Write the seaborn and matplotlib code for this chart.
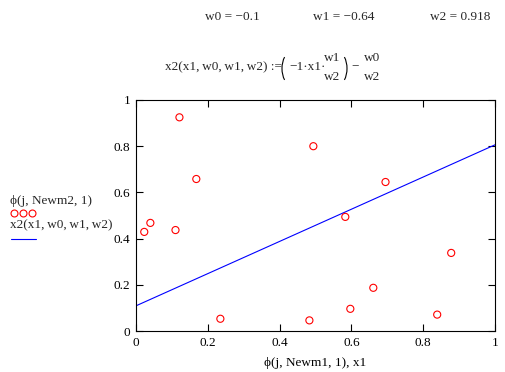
import matplotlib
matplotlib.use("Agg")
import matplotlib.pyplot as plt
from matplotlib.lines import Line2D
from matplotlib.patches import Arc
import seaborn as sns
import pandas as pd

# data
pts_x = [0.023, 0.040, 0.110, 0.121, 0.168, 0.235, 0.483, 0.494, 0.583, 0.597, 0.661, 0.695, 0.839, 0.878]
pts_y = [0.429, 0.468, 0.437, 0.925, 0.658, 0.053, 0.046, 0.800, 0.494, 0.096, 0.187, 0.645, 0.071, 0.338]
line_x = [0.0, 1.0]
line_y = [0.109, 0.806]
tick_vals = [0, 0.2, 0.4, 0.6, 0.8, 1]
tick_labels = ["0", "0.2", "0.4", "0.6", "0.8", "1"]

sns.set_theme(style="white")
plt.rcParams['font.family'] = ['Liberation Serif', 'DejaVu Serif']

FS = 9.5
W, H = 505, 372
fig = plt.figure(figsize=(W/100, H/100), dpi=100)
fig.patch.set_facecolor("white")
ax = fig.add_axes([136/W, 1 - 331/H, (495-136)/W, (331-100)/H])

def fx(x):
    return x / W

def fy(y):
    return 1 - y / H

pdf = pd.DataFrame({"x": pts_x, "y": pts_y})
ldf = pd.DataFrame({"x": line_x, "y": line_y})
sns.lineplot(data=ldf, x="x", y="y", ax=ax, color="#0000ff", linewidth=0.8)
sns.scatterplot(data=pdf, x="x", y="y", ax=ax, marker="o", s=26,
                facecolor="none", edgecolor="#ff0000", linewidth=0.8, zorder=3)

ax.set_xlim(0, 1)
ax.set_ylim(0, 1)
ax.set_xticks(tick_vals)
ax.set_xticklabels(tick_labels)
ax.set_yticks(tick_vals)
ax.set_yticklabels(tick_labels)
ax.tick_params(direction="in", length=5, width=0.8, colors="black", labelsize=FS,
               top=True, right=True, bottom=True, left=True, pad=4)
for s in ax.spines.values():
    s.set_color("black")
    s.set_linewidth(0.8)
ax.set_facecolor("white")
ax.set_xlabel("ϕ(j, Newm1, 1), x1", fontsize=FS, color="black", labelpad=6)
ax.set_ylabel("")

# header text
fig.text(fx(232), fy(17), "w0 = −0.1", fontsize=FS, ha="center", va="center")
fig.text(fx(344), fy(17), "w1 = −0.64", fontsize=FS, ha="center", va="center")
fig.text(fx(460), fy(17), "w2 = 0.918", fontsize=FS, ha="center", va="center")

# formula, Mathcad style
TS = "\u2009"
MY, NY, DY = 67, 58, 77
fig.text(fx(165), fy(MY), f"x2(x1,{TS}w0,{TS}w1,{TS}w2) :=", fontsize=FS, ha="left", va="center")
fig.text(fx(289), fy(MY), "−1·x1·", fontsize=FS, ha="left", va="center")
fig.text(fx(332), fy(NY), "w1", fontsize=FS, ha="center", va="center")
fig.text(fx(332), fy(DY), "w2", fontsize=FS, ha="center", va="center")
fig.text(fx(355), fy(MY), "−", fontsize=FS, ha="center", va="center")
fig.text(fx(372), fy(NY), "w0", fontsize=FS, ha="center", va="center")
fig.text(fx(372), fy(DY), "w2", fontsize=FS, ha="center", va="center")
fig.add_artist(Arc((292/100, (H - 68.5)/100), 20/100, 34/100, theta1=123, theta2=237,
                   transform=fig.dpi_scale_trans, color="black", lw=0.8))
fig.add_artist(Arc((337/100, (H - 68.5)/100), 20/100, 34/100, theta1=-57, theta2=57,
                   transform=fig.dpi_scale_trans, color="black", lw=0.8))

# legend block (Mathcad style)
fig.text(fx(10), fy(201), "ϕ(j, Newm2, 1)", fontsize=FS, ha="left", va="center")
for cx in (14, 23, 32):
    fig.add_artist(Line2D([fx(cx)], [fy(213)], marker="o", markersize=5,
                          markerfacecolor="none", markeredgecolor="#ff0000",
                          markeredgewidth=0.8, linestyle="none", transform=fig.transFigure))
fig.text(fx(10), fy(225), f"x2(x1,{TS}w0,{TS}w1,{TS}w2)", fontsize=FS, ha="left", va="center")
fig.add_artist(Line2D([fx(11), fx(36)], [fy(239), fy(239)], color="#0000ff",
                      linewidth=0.8, transform=fig.transFigure))

fig.savefig("out.png", dpi=100, facecolor="white")
